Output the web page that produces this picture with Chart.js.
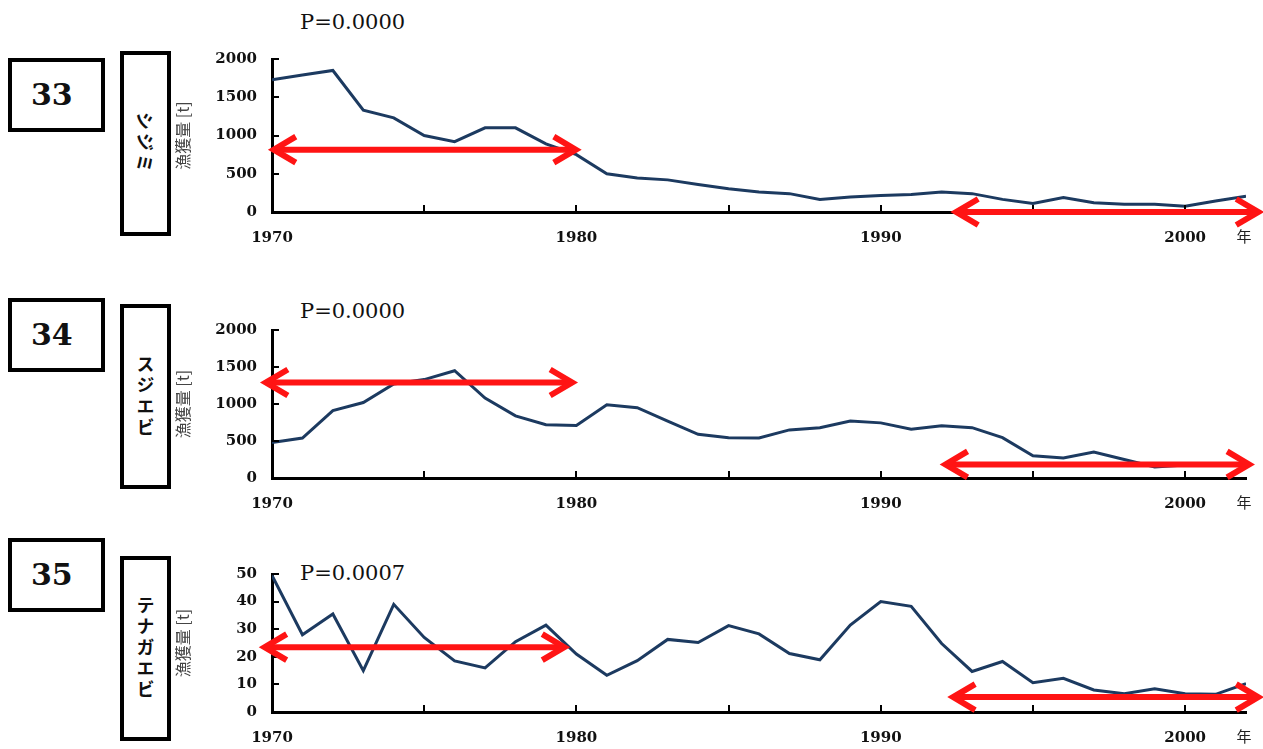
<!DOCTYPE html>
<html><head><meta charset="utf-8">
<script src="https://cdn.jsdelivr.net/npm/chart.js@4.4.0/dist/chart.umd.min.js"></script>
<style>
html,body{margin:0;padding:0;background:#fff;width:1263px;height:749px;overflow:hidden;position:relative;}
.num{position:absolute;left:8px;width:97px;height:74px;box-sizing:border-box;border:4px solid #000;font-family:"DejaVu Serif",serif;font-weight:bold;font-size:30px;line-height:66px;padding-left:19px;color:#111;}
.lab{position:absolute;left:120px;width:51px;height:185px;box-sizing:border-box;border:4px solid #000;display:flex;align-items:center;justify-content:center;}
.lab span{font-family:"Noto Sans CJK JP",sans-serif;font-weight:bold;font-size:18px;writing-mode:vertical-rl;letter-spacing:3px;color:#111;}
.lab span.side{text-orientation:sideways;}
.lab span.up{text-orientation:upright;}
.pv{position:absolute;left:300px;font-family:"DejaVu Serif",serif;font-size:21px;line-height:21px;color:#111;}
.cw{position:absolute;left:170px;width:1093px;}
canvas{display:block;}
</style></head>
<body>
<div class="num" style="top:58px">33</div>
<div class="lab" style="top:51px"><span class="side">シジミ</span></div>
<div class="pv" style="top:12px">P=0.0000</div>
<div class="cw" style="top:35px"><canvas id="c33" width="1093" height="215"></canvas></div>

<div class="num" style="top:298px">34</div>
<div class="lab" style="top:304px"><span class="up">スジエビ</span></div>
<div class="pv" style="top:301px">P=0.0000</div>
<div class="cw" style="top:306px"><canvas id="c34" width="1093" height="210"></canvas></div>

<div class="num" style="top:538px">35</div>
<div class="lab" style="top:556px"><span class="up">テナガエビ</span></div>
<div class="pv" style="top:563px">P=0.0007</div>
<div class="cw" style="top:550px"><canvas id="c35" width="1093" height="199"></canvas></div>

<script>
const years = [1970,1971,1972,1973,1974,1975,1976,1977,1978,1979,1980,1981,1982,1983,1984,1985,1986,1987,1988,1989,1990,1991,1992,1993,1994,1995,1996,1997,1998,1999,2000,2001,2002];
const shijimiCatch = [1730,1790,1850,1330,1230,1000,920,1100,1100,890,750,500,445,420,360,305,260,240,165,195,215,230,260,240,165,110,190,120,100,100,75,145,205];
const sujiebiCatch = [480,540,910,1020,1270,1330,1450,1080,840,720,710,990,950,770,590,545,540,650,680,770,745,660,705,680,545,300,270,350,250,150,175,180,185];
const tenagaebiCatch = [49.5,28,35.5,15,39,27,18.5,16,25.5,31.5,21,13.3,18.6,26.3,25.2,31.3,28.3,21.2,18.9,31.5,40,38.3,24.8,14.7,18.3,10.6,12.2,8,6.6,8.4,6.6,6.4,10.3];
const xLabelYears = [1970,1980,1990,2000];
const yMax33 = 2000, yStep33 = 500;
const yMax34 = 2000, yStep34 = 500;
const yMax35 = 50, yStep35 = 10;
// arrows: [startYear, endYear, value]
const arrows33 = [[1969.96,1980.08,815],[1992.38,2002.5,0]];
const arrows34 = [[1969.7,1979.96,1290],[1992.03,2002.2,184]];
const arrows35 = [[1969.66,1979.7,23.5],[1992.28,2002.5,5.4]];

const serif = '"DejaVu Serif", serif';
const cjk = '"Noto Sans CJK JP", sans-serif';

function decorPlugin(arrows){
  return {
    id:'decor',
    afterDatasetsDraw(chart){
      const {ctx, chartArea:a, scales:{x,y}} = chart;
      ctx.save();
      ctx.strokeStyle='#000'; ctx.lineWidth=2; ctx.lineCap='butt';
      x.ticks.forEach(t=>{
        if(t.value%5===0 && t.value>x.min){
          const px=Math.round(x.getPixelForValue(t.value));
          ctx.beginPath(); ctx.moveTo(px,a.bottom); ctx.lineTo(px,a.bottom-7); ctx.stroke();
        }
      });
      y.ticks.forEach(t=>{
        if(t.value>y.min){
          const py=Math.round(y.getPixelForValue(t.value));
          ctx.beginPath(); ctx.moveTo(a.left,py); ctx.lineTo(a.left+7,py); ctx.stroke();
        }
      });
      ctx.strokeStyle='#ff1414'; ctx.lineWidth=6; ctx.lineJoin='miter';
      arrows.forEach(([x1,x2,v])=>{
        const p1=x.getPixelForValue(x1), p2=x.getPixelForValue(x2), py=y.getPixelForValue(v);
        ctx.beginPath(); ctx.moveTo(p1+5,py); ctx.lineTo(p2-5,py); ctx.stroke();
        ctx.beginPath(); ctx.moveTo(p1+25,py-13); ctx.lineTo(p1+3,py); ctx.lineTo(p1+25,py+13); ctx.stroke();
        ctx.beginPath(); ctx.moveTo(p2-25,py-13); ctx.lineTo(p2-3,py); ctx.lineTo(p2-25,py+13); ctx.stroke();
      });
      ctx.fillStyle='#222'; ctx.font='15px '+cjk; ctx.textAlign='center'; ctx.textBaseline='middle';
      ctx.fillText('年', a.right-2, a.bottom+24);
      ctx.restore();
    }
  };
}

function makePanel(id, values, yMax, yStep, arrows, xAxisH){
  new Chart(document.getElementById(id), {
    type:'line',
    data:{ datasets:[{ data: years.map((yr,i)=>({x:yr,y:values[i]})), borderColor:'#1c3a60', borderWidth:3, pointRadius:0, tension:0, fill:false }] },
    options:{
      responsive:false, devicePixelRatio:1, animation:false,
      layout:{padding:{top:20,right:13,left:0,bottom:0}},
      plugins:{legend:{display:false}, tooltip:{enabled:false}},
      scales:{
        x:{type:'linear', min:1970, max:2002,
           ticks:{stepSize:5, autoSkip:false, maxRotation:0, padding:17, color:'#111',
                  font:{family:serif,size:15,weight:'bold'},
                  callback:v=> xLabelYears.includes(v)? String(v):''},
           grid:{display:false, drawTicks:false},
           border:{display:true,color:'#000',width:3},
           afterFit(s){ s.height = xAxisH; }},
        y:{min:0, max:yMax,
           ticks:{stepSize:yStep, padding:15, color:'#111', font:{family:serif,size:15,weight:'bold'},
                  callback:v=> String(v)},
           grid:{display:false, drawTicks:false},
           border:{display:true,color:'#000',width:3},
           title:{display:true, text:'漁獲量 [t]', color:'#444', font:{family:cjk,size:16}, padding:{top:3,bottom:0}},
           afterFit(s){ s.width = 102; }}
      }
    },
    plugins:[decorPlugin(arrows)]
  });
}

makePanel('c33', shijimiCatch, yMax33, yStep33, arrows33, 38);
makePanel('c34', sujiebiCatch, yMax34, yStep34, arrows34, 38);
makePanel('c35', tenagaebiCatch, yMax35, yStep35, arrows35, 37);
</script>
</body></html>
